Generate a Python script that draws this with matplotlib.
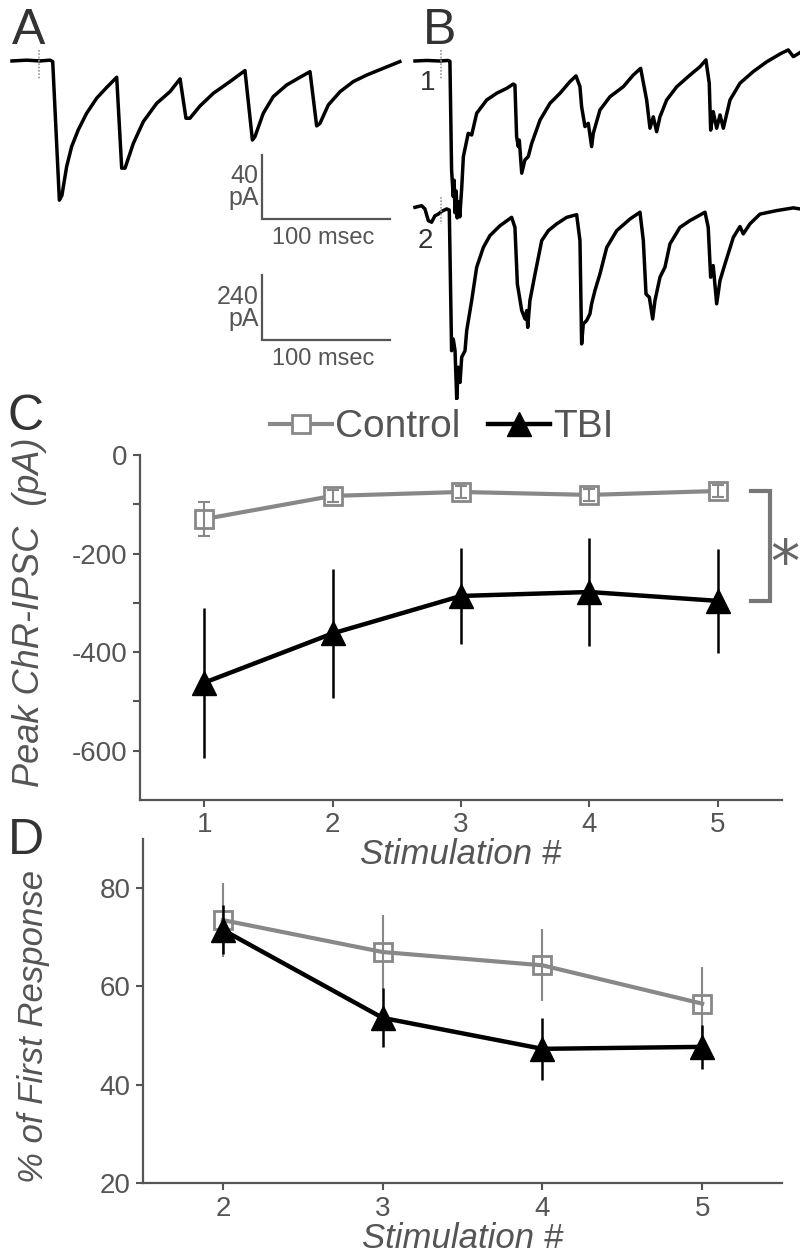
import matplotlib
matplotlib.use("Agg")
import matplotlib.pyplot as plt
from matplotlib.lines import Line2D

# Arial-like font everywhere, plain hyphen for negative ticks
REGULAR = ["Liberation Sans", "DejaVu Sans"]
plt.rcParams["font.family"] = REGULAR
plt.rcParams["axes.unicode_minus"] = False

GRAY_TXT = "#555555"
GRAY_CTL = "#888888"
LETTER = "#333333"

# ---- C: peak ChR-IPSC (pA) ----
stim_c = [1, 2, 3, 4, 5]
control_peak = [-130, -83, -75, -81, -73]
control_peak_err = [34, 12, 12, 12, 12]
tbi_peak = [-462, -362, -286, -278, -296]
tbi_peak_err = [152, 131, 98, 110, 105]

# ---- D: % of first response ----
stim_d = [2, 3, 4, 5]
control_pct = [73.5, 67.0, 64.3, 56.5]
control_pct_err = [7.5, 7.5, 7.3, 7.5]
tbi_pct = [71.5, 53.6, 47.3, 47.7]
tbi_pct_err = [5.0, 6.0, 6.3, 4.5]

# ---- traces: (msec, pA) ----
trace_a = [
    (0, 0), (11.5, 0.5), (21.9, 0), (29.7, 0.5), (31.8, -0.4), (37, -87),
    (39, -84), (42.7, -66), (46.6, -53.5), (51.8, -43), (58.3, -32.7),
    (66.1, -23.3), (74, -16.5), (81.8, -10.2), (85.7, -67), (88.3, -67),
    (94.8, -51.5), (102.6, -37.9), (113, -26.5), (123.4, -19.2),
    (131.3, -11.2), (135.9, -35.8), (139, -35.8), (146.9, -28.1),
    (157.3, -20.2), (170.3, -12.9), (182, -6), (187.8, -49.4),
    (189.8, -47.3), (196.3, -32.7), (204.1, -22.3), (214.6, -15),
    (225, -10.2), (232.8, -6.7), (238, -40.6), (240.6, -39), (247.1, -27.5),
    (256.3, -19.2), (266.6, -12.9), (277.1, -8.8), (290, -4.6), (303, -0.4),
]

trace_b1 = [
    (0, 0), (9.1, 2), (19.5, 0), (26, 2), (27.3, -1), (28.6, -402),
    (29.9, -500), (30.6, -440), (31.3, -560), (32.2, -480), (33, -579),
    (34, -520), (35, -575), (36.5, -470), (37.8, -353), (41.6, -267),
    (44.3, -273), (48.2, -193), (56, -144), (63.8, -119), (71.6, -101),
    (76.8, -85), (78.1, -89), (79.4, -279), (80.7, -316), (81.5, -292),
    (83.4, -414), (85.9, -365), (88.5, -353), (91.2, -304), (97.7, -218),
    (105.5, -156), (113.3, -119), (121.1, -76), (125.8, -55), (128.9, -95),
    (130.2, -169), (132.8, -242), (135.4, -230), (138, -316), (139.3, -267),
    (144.5, -181), (152.3, -132), (162.7, -95), (170.5, -52), (176.3, -27),
    (181, -144), (183.6, -248), (186.2, -206), (188.8, -261), (191.4, -206),
    (196.6, -144), (204.5, -95), (214.8, -52), (222.7, -21), (227.3, 4),
    (229.9, -82), (231, -255), (233, -187), (235.7, -248), (238.3, -199),
    (240.9, -248), (246.1, -144), (253.9, -82), (264.3, -39), (274.8, -3),
    (285.2, 26), (291.6, 41), (295.6, 16), (300.8, 31),
]

trace_b2 = [
    (0, 0), (5.2, 6), (7.8, -6), (10.4, -49), (13, -55), (15.6, -31),
    (18.2, -25), (20.8, -15), (24.8, -6), (26.8, -10), (28.6, -529),
    (29.9, -486), (31.3, -529), (32.6, -707), (33.8, -590), (35.2, -646),
    (36.5, -553), (39.1, -529), (40.4, -455), (44.3, -344), (48.2, -221),
    (53.4, -148), (58.6, -104), (66.4, -68), (75.5, -37), (78.1, -74),
    (80, -283), (83.4, -381), (86, -412), (87.3, -381), (88.1, -443),
    (89.8, -344), (93.8, -246), (99, -123), (104.2, -86), (110.7, -61),
    (118.5, -37), (126.3, -27), (128.9, -123), (130.2, -504), (131.5, -430),
    (134.1, -418), (136.7, -393), (138, -356), (140.6, -307), (144.5, -246),
    (149.8, -148), (157.6, -86), (168, -43), (175.8, -18), (178.4, -123),
    (180.5, -320), (183.1, -332), (185.7, -412), (187.5, -344),
    (191.4, -258), (195.3, -221), (199.2, -135), (207, -74), (214.8, -49),
    (226.6, -18), (229.1, -74), (231, -258), (233, -215), (235.7, -356),
    (238.3, -270), (242.2, -209), (248.7, -111), (253.9, -71), (256.5, -98),
    (261.7, -61), (269.5, -25), (282.6, -12), (295.6, -2), (300.8, -6),
]
B2_OFFSET = -540      # pA, vertical offset of trace 2 under trace 1
STIM_MARK_A = 21      # msec
STIM_MARK_B = 20


def axes_px(fig, left, top, right, bottom):
    """axes from pixel box (figure is 800 x 1257)"""
    W, H = 800.0, 1257.0
    return fig.add_axes([left / W, 1 - bottom / H, (right - left) / W, (bottom - top) / H])


def draw_trace(ax, pares, offset=0.0):
    t = [p[0] for p in pares]
    v = [p[1] + offset for p in pares]
    ax.plot(t, v, color="black", lw=2.5, solid_joinstyle="round")


def scale_bar(ax, x0, y0, dx, dy, lbl_y, lbl_x):
    ax.plot([x0, x0, x0 + dx], [y0 + dy, y0, y0], color=GRAY_TXT, lw=1.6,
            solid_joinstyle="miter")
    ax.text(x0 - dx * 0.025, y0 + dy * 0.5, lbl_y, ha="right", va="center",
            fontsize=18, color=GRAY_TXT, linespacing=0.9)
    ax.text(x0 + dx * 0.48, y0 - dy * 0.29, lbl_x, ha="center", va="center",
            fontsize=17, color=GRAY_TXT)


def style_axes(ax):
    ax.patch.set_visible(False)
    for s in ["top", "right"]:
        ax.spines[s].set_visible(False)
    for s in ["left", "bottom"]:
        ax.spines[s].set_color(GRAY_TXT)
        ax.spines[s].set_linewidth(1.6)
    ax.tick_params(direction="out", length=5, width=1.5, colors=GRAY_TXT,
                   labelsize=20, pad=4)
    ax.tick_params(which="minor", direction="out", length=5, width=1.5, colors=GRAY_TXT)


fig = plt.figure(figsize=(8.0, 12.57), dpi=100)

# ---------- A ----------
ax_a = axes_px(fig, 0, 0, 800, 400)
ax_a.set_xlim(-9.375, 615.6)
ax_a.set_ylim(-211.9, 38.1)
ax_a.axis("off")
draw_trace(ax_a, trace_a)
ax_a.plot([STIM_MARK_A, STIM_MARK_A], [7, -12], color="#999999", lw=1.2, ls=(0, (1, 1)))
scale_bar(ax_a, 195.3, -98.75, 100, 40, "40\npA", "100 msec")

# ---------- B ----------
ax_b = axes_px(fig, 0, 0, 800, 400)
ax_b.set_xlim(-324.2, 300.8)
ax_b.set_ylim(-1251, 225.1)
ax_b.axis("off")
draw_trace(ax_b, trace_b1)
draw_trace(ax_b, trace_b2, B2_OFFSET)
ax_b.plot([STIM_MARK_B] * 2, [40, -70], color="#999999", lw=1.2, ls=(0, (1, 1)))
ax_b.plot([STIM_MARK_B] * 2, [B2_OFFSET + 37, B2_OFFSET - 61], color="#999999",
          lw=1.2, ls=(0, (1, 1)))
ax_b.text(10, -80, "1", ha="center", va="center", fontsize=20, color=LETTER)
ax_b.text(8, B2_OFFSET - 125, "2", ha="center", va="center", fontsize=20, color=LETTER)
scale_bar(ax_b, -119.5, -1030, 100, 240, "240\npA", "100 msec")

# ---------- C ----------
ax_c = axes_px(fig, 140, 455, 782, 800)
ax_c.plot(stim_c, control_peak, color=GRAY_CTL, lw=3, zorder=2)
ax_c.plot(stim_c, control_peak, ls="none", marker="s", ms=13, mfc="white",
          mec=GRAY_CTL, mew=2, zorder=3)
ax_c.errorbar(stim_c, control_peak, yerr=control_peak_err, fmt="none",
              ecolor=GRAY_CTL, elinewidth=1.5, capsize=4, capthick=1.5, zorder=4)
ax_c.errorbar(stim_c, tbi_peak, yerr=tbi_peak_err, fmt="none", ecolor="black",
              elinewidth=1.8, capsize=0, zorder=5)
ax_c.plot(stim_c, tbi_peak, color="black", lw=3.2, marker="^", ms=17,
          mfc="black", mec="black", zorder=6)
ax_c.set_xlim(0.5, 5.5)
ax_c.set_ylim(-700, 0)
ax_c.set_xticks(stim_c)
ax_c.set_yticks([0, -200, -400, -600])
ax_c.set_yticks([-100, -300, -500], minor=True)
style_axes(ax_c)
ax_c.set_xlabel("Stimulation #", fontsize=25, style="italic", color=GRAY_TXT,
                labelpad=0)
ax_c.set_ylabel("Peak ChR-IPSC  (pA)", fontsize=26, style="italic", color=GRAY_TXT)
ax_c.yaxis.set_label_coords(-0.145, 0.545)

# significance bracket
br_top = control_peak[-1]
br_bot = tbi_peak[-1]
ax_c.plot([5.26, 5.41, 5.41, 5.26], [br_top, br_top, br_bot, br_bot],
          color="#777777", lw=3, clip_on=False, solid_joinstyle="miter")
ax_c.text(5.52, (br_top + br_bot) / 2 - 40, "*", ha="center", va="center",
          fontsize=42, color="#666666", clip_on=False, family="DejaVu Sans")

handles = [
    Line2D([], [], color=GRAY_CTL, lw=3, marker="s", ms=13, mfc="white",
           mec=GRAY_CTL, mew=2),
    Line2D([], [], color="black", lw=3.2, marker="^", ms=17, mfc="black"),
]
ax_c.legend(handles, ["Control", "TBI"], ncol=2, frameon=False,
            loc="center", bbox_to_anchor=(0.47, 1.08),
            prop={"size": 28}, labelcolor=GRAY_TXT,
            handlelength=1.6, handletextpad=0.08, columnspacing=0.7,
            borderpad=0, borderaxespad=0)

# ---------- D ----------
ax_d = axes_px(fig, 143, 839, 782, 1183)
ax_d.plot(stim_d, control_pct, color=GRAY_CTL, lw=3, zorder=2)
ax_d.errorbar(stim_d, control_pct, yerr=control_pct_err, fmt="none",
              ecolor=GRAY_CTL, elinewidth=1.5, capsize=0, zorder=3)
ax_d.plot(stim_d, control_pct, ls="none", marker="s", ms=13, mfc="none",
          mec=GRAY_CTL, mew=2, zorder=4)
ax_d.errorbar(stim_d, tbi_pct, yerr=tbi_pct_err, fmt="none", ecolor="black",
              elinewidth=1.8, capsize=0, zorder=5)
ax_d.plot(stim_d, tbi_pct, color="black", lw=3.2, marker="^", ms=17,
          mfc="black", mec="black", zorder=6)
ax_d.set_xlim(1.5, 5.5)
ax_d.set_ylim(20, 90)
ax_d.set_xticks(stim_d)
ax_d.set_yticks([20, 40, 60, 80])
style_axes(ax_d)
ax_d.set_xlabel("Stimulation #", fontsize=25, style="italic", color=GRAY_TXT,
                labelpad=0)
ax_d.set_ylabel("% of First Response", fontsize=25, style="italic", color=GRAY_TXT)
ax_d.yaxis.set_label_coords(-0.145, 0.455)

# panel letters
for letra, (x, y) in {"A": (12, 8), "B": (423, 8), "C": (8, 394), "D": (8, 818)}.items():
    fig.text(x / 800, 1 - y / 1257, letra, ha="left", va="top", fontsize=36,
             color=LETTER)

fig.savefig("out.png", dpi=100)
